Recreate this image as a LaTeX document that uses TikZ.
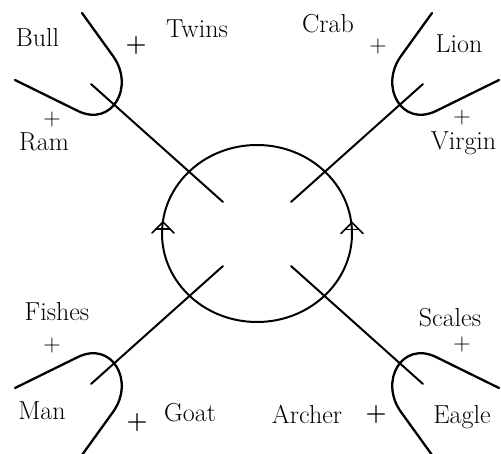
\documentclass[tikz,border=0pt]{standalone}
\usepackage{fontspec}
\begin{document}
\begin{tikzpicture}[x=1pt,y=-1pt,
  lbl/.style={inner sep=0pt,anchor=base,font=\fontsize{26}{30}\selectfont},
  plus/.style={inner sep=0pt,font=\fontsize{24}{28}\selectfont},
  bplus/.style={inner sep=0pt,font=\fontsize{24}{28}\selectfont\bfseries},
  ray/.style={line width=2pt,line cap=round},
  fork/.style={line width=2.3pt,line cap=round,line join=round},
  ring/.style={line width=2pt},
  tip/.style={line width=1.6pt,line cap=round,line join=miter}]
\useasboundingbox (0,0) rectangle (501,454);
\fill[white] (0,0) rectangle (501,454);
% central wheel
\draw[ring] (257,233.5) ellipse [x radius=95, y radius=88.5];
% arrowheads on the wheel
\draw[tip] (152,233) -- (163,222) -- (174,233);
\draw[tip] (156,229) -- (170,229);
\draw[tip] (341,233.5) -- (352,222.5) -- (363,233.5);
\draw[tip] (345,229.5) -- (359,229.5);
% four rays with their forks (mirror images of the upper-left one)
\foreach \sx/\sy/\q in {1/1/ul, -1/1/ur, 1/-1/ll, -1/-1/lr} {
  \begin{scope}[shift={(257,234)}, xscale=\sx, yscale=\sy, shift={(-257,-234)}]
    \coordinate (in-\q) at (223,202);
    \coordinate (out-\q) at (91,84);
    \draw[ray] (in-\q) -- (out-\q);
    \draw[fork] (82,13) -- (113,56) .. controls (135.2,86.8) and (112.2,127.5) .. (78,111) -- (15,80);
  \end{scope}
}
% labels
\node[lbl] (bull) at (37.5,47) {Bull};
\node[lbl] (twins) at (197,38) {Twins};
\node[bplus] (p-twins) at (136,46) {+};
\node[plus] (p-ram) at (52,120) {+};
\node[lbl] (ram) at (44,151) {Ram};
\node[lbl] (crab) at (328,33) {Crab};
\node[plus] (p-crab) at (378,47) {+};
\node[lbl] (lion) at (459,53) {Lion};
\node[plus] (p-virgin) at (462,118) {+};
\node[lbl] (virgin) at (463.5,150) {Virgin};
\node[lbl] (fishes) at (57,320.5) {Fishes};
\node[plus] (p-fishes) at (52,346) {+};
\node[lbl] (man) at (42,420) {Man};
\node[bplus] (p-goat) at (137,423) {+};
\node[lbl] (goat) at (190,421.5) {Goat};
\node[lbl] (scales) at (450,326.5) {Scales};
\node[plus] (p-scales) at (462,345) {+};
\node[lbl] (archer) at (307,424) {Archer};
\node[bplus] (p-archer) at (376,415) {+};
\node[lbl] (eagle) at (462,424) {Eagle};
\end{tikzpicture}
\end{document}
